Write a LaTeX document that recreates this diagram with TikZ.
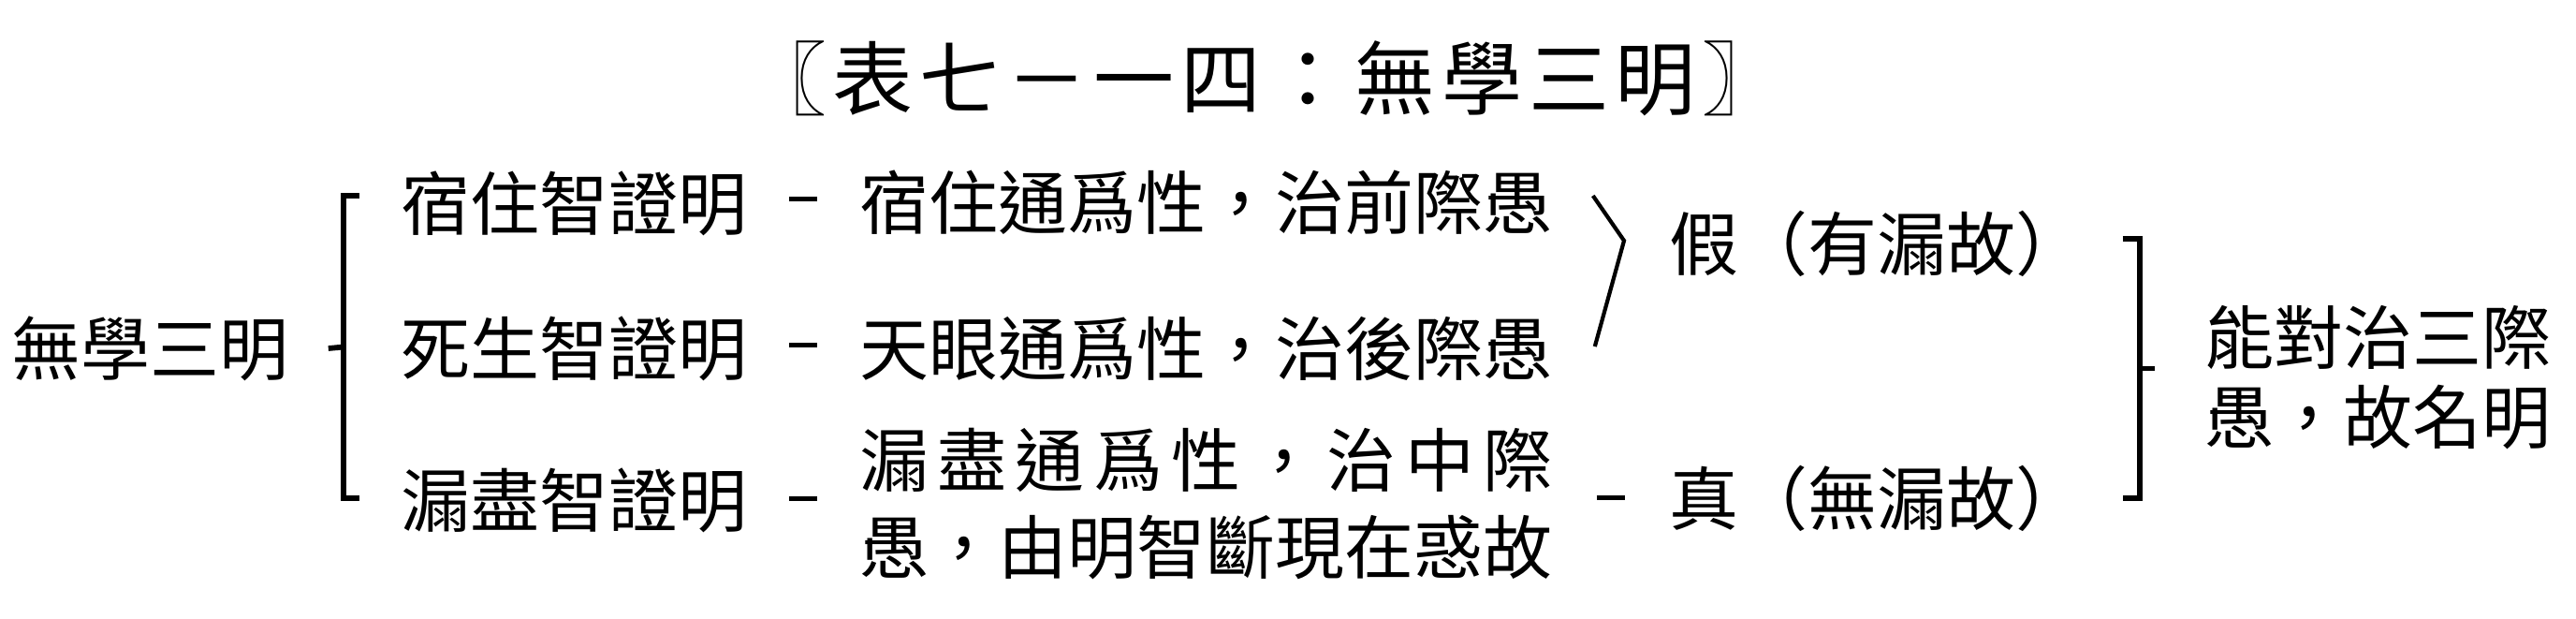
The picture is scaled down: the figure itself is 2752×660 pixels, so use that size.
\documentclass[tikz,border=0pt]{standalone}
\usepackage{fontspec}
\setmainfont{Noto Sans CJK TC}
\newfontfamily\titlefont{Noto Sans CJK TC}[LetterSpace=8]
\usetikzlibrary{calc}

\begin{document}
\begin{tikzpicture}[x=.5pt,y=-.5pt,
  txt/.style={inner sep=0,anchor=west,align=left,font=\fontsize{37}{46.5}\selectfont},
  brk/.style={line width=2.9pt},tick/.style={line width=2.5pt},fork/.style={line width=2.1pt}]
\useasboundingbox (0,0) rectangle (2752,660);
\node[inner sep=0,font=\titlefont\fontsize{43}{43}\selectfont] (title) at (1351,84) {〖表七－一四：無學三明〗};
% left column
\node[txt] (root) at (12,372) {無學三明};
\node[txt] (k1) at (428,217) {宿住智證明};\node[txt] (k2) at (428,372) {死生智證明};
\node[txt] (k3) at (428,534) {漏盡智證明};
% middle column
\node[txt] (t1) at (918,216) {宿住通爲性，治前際愚};\node[txt] (t2) at (918,372) {天眼通爲性，治後際愚};
\node[txt,text width=370pt] (t3) at (918,538) {\hbox to 370pt{漏\hfill 盡\hfill 通\hfill 爲\hfill 性\hfill ，\hfill 治\hfill 中\hfill 際}\\愚，由明智斷現在惑故};
% right column
\node[txt] (jia) at (1783,260) {假（有漏故）};\node[txt] (zhen) at (1783,532) {真（無漏故）};
\node[txt,font=\fontsize{37}{42.5}\selectfont] (ming) at (2355,403) {能對治三際\\愚，故名明};
% brackets and dashes
\draw[brk] ($(k1.west)+(-44,-8)$) -- ($(k1.west)+(-61,-8)$) coordinate (lt) -- ($(k3.west)+(-61,-2)$) coordinate (lb) -- ($(k3.west)+(-44,-2)$);
\draw[brk] ($(lt)!.5!(lb)$) coordinate (lmid) -- ($(root.east)+(42,0)$ |- lmid);
\foreach \r in {1,2,3}{\draw[tick] ($(k\r.east)!.5!(t\r.west)$) +(-15,-4) -- +(15,-4);}
\draw[tick] ($(t3.east)!.5!(zhen.west)$) +(-15,-4) -- +(15,-4);
\draw[fork] ($(t1.east)+(43,-7)$) -- ($(jia.west)+(-48,-3)$) -- ($(t2.east)+(45,-2)$);
\draw[brk] ($(jia.east)+(40,-5)$) -- ($(jia.east)+(58,-5)$) coordinate (rt) -- ($(zhen.east)+(58,0)$) coordinate (rb) -- ($(zhen.east)+(40,0)$);
\draw[brk] ($(rt)!.5!(rb)$) coordinate (rmid) -- ++(16,0);
\end{tikzpicture}
\end{document}
